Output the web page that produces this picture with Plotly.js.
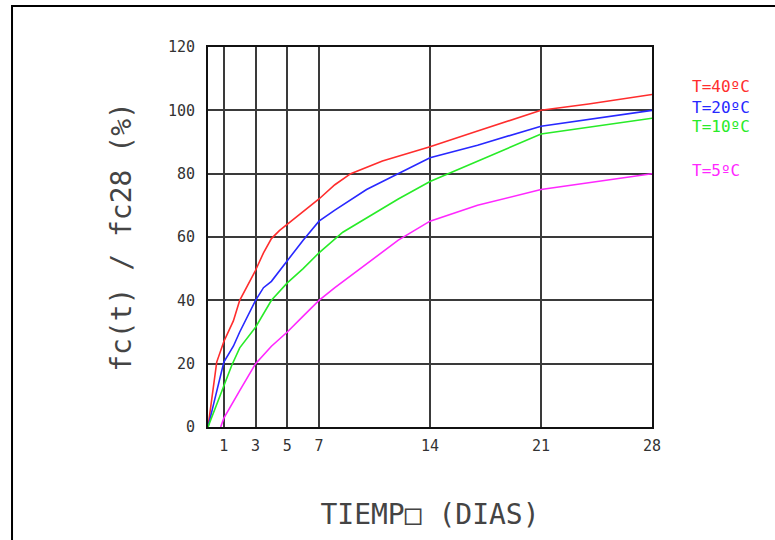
<!DOCTYPE html>
<html><head><meta charset="utf-8">
<script src="https://cdn.plot.ly/plotly-3.0.1.min.js"></script>
<style>body{margin:0;background:#fff}#chart{width:775px;height:540px}</style>
</head><body><div id="chart"></div>
<script>
const xTicks = [1, 3, 5, 7, 14, 21, 28];
const yTicks = [0, 20, 40, 60, 80, 100, 120];

const t40x = [0, 0.55, 1, 1.6, 2, 3, 3.5, 4, 4.5, 5, 6, 7, 8, 9, 11, 14, 17, 21, 24, 28];
const t40y = [0, 20.5, 27, 33.5, 40, 49.5, 55, 59.5, 62, 64, 68, 72, 76.5, 80, 84, 88.5, 93.5, 100, 102, 105];

const t20x = [0, 1, 1.6, 2, 3, 3.5, 4, 5, 6, 7, 8, 10, 12, 14, 17, 21, 28];
const t20y = [0, 20.5, 25.5, 30, 40, 44, 46, 52.5, 59, 65, 68.5, 75, 80, 85, 89, 95, 100];

const t10x = [0, 1, 1.5, 2, 3, 4, 5, 6, 7, 8.5, 10, 12, 14, 17, 21, 28];
const t10y = [0, 13, 19.5, 25, 31.5, 40, 45.5, 50, 55, 61.5, 66, 72, 77.5, 84, 92.5, 97.5];

const t5x = [0.8, 1, 2, 3, 4, 5, 6, 7, 8, 10.5, 12, 14, 17, 21, 28];
const t5y = [0, 2.8, 11.5, 20, 25.5, 30, 35, 40, 44, 53.5, 59, 65, 70, 75, 80];

const seriesNames = ['T=40ºC', 'T=20ºC', 'T=10ºC', 'T=5ºC'];
const seriesColors = ['rgb(255,45,45)', 'rgb(40,40,255)', 'rgb(40,235,40)', 'rgb(255,40,255)'];
const labelY = [0.896, 0.842, 0.79, 0.676];

const xs = [t40x, t20x, t10x, t5x];
const ys = [t40y, t20y, t10y, t5y];

const traces = xs.map((x, i) => ({
  x: x, y: ys[i], type: 'scatter', mode: 'lines', name: seriesNames[i],
  line: {color: seriesColors[i], width: 1.6}, hoverinfo: 'skip'
}));

const font = 'DejaVu Sans Mono, monospace';

const annotations = seriesNames.map((n, i) => ({
  text: n, xref: 'paper', yref: 'paper', x: 1.0856, y: labelY[i],
  xanchor: 'left', yanchor: 'middle', showarrow: false,
  font: {family: font, size: 16, color: seriesColors[i]}
}));

const layout = {
  width: 775, height: 540,
  margin: {l: 208, r: 123, t: 47, b: 113},
  paper_bgcolor: '#fff', plot_bgcolor: '#fff',
  showlegend: false,
  xaxis: {
    range: [0, 28], tickvals: xTicks, ticktext: xTicks.map(String),
    showgrid: true, gridcolor: '#3a3a3a', gridwidth: 1.5, zeroline: false,
    showline: true, mirror: true, linecolor: '#111', linewidth: 2,
    ticks: 'outside', ticklen: 4, tickcolor: 'rgba(0,0,0,0)',
    tickfont: {family: font, size: 15, color: '#333'},
    title: {text: 'TIEMP□ (DIAS)', standoff: 50, font: {family: font, size: 28, color: '#444'}}
  },
  yaxis: {
    range: [0, 120], tickvals: yTicks, ticktext: yTicks.map(String),
    showgrid: true, gridcolor: '#3a3a3a', gridwidth: 1.5, zeroline: false,
    showline: true, mirror: true, linecolor: '#111', linewidth: 2,
    ticks: 'outside', ticklen: 8, tickcolor: 'rgba(0,0,0,0)',
    tickfont: {family: font, size: 15, color: '#333'},
    title: {text: 'fc(t) / fc28 (%)', standoff: 28, font: {family: font, size: 28, color: '#444'}}
  },
  annotations: annotations,
  shapes: [{
    type: 'rect', xref: 'paper', yref: 'paper',
    x0: -0.4414, x1: 1.4, y0: -0.5, y1: 1.108,
    line: {color: '#000', width: 2}
  }]
};

Plotly.newPlot('chart', traces, layout, {displayModeBar: false});
</script>
</body></html>
